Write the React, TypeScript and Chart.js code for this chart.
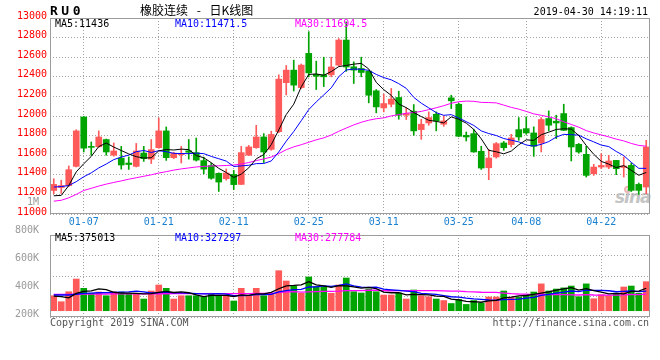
import React, { useEffect, useRef } from 'react';
import { Chart, registerables } from 'chart.js';

Chart.register(...registerables);

// ---------- data ----------
const DATES = [
  '12-28', '01-02', '01-03', '01-04', '01-07', '01-08', '01-09', '01-10', '01-11', '01-14',
  '01-15', '01-16', '01-17', '01-18', '01-21', '01-22', '01-23', '01-24', '01-25', '01-28',
  '01-29', '01-30', '01-31', '02-01', '02-11', '02-12', '02-13', '02-14', '02-15', '02-18',
  '02-19', '02-20', '02-21', '02-22', '02-25', '02-26', '02-27', '02-28', '03-01', '03-04',
  '03-05', '03-06', '03-07', '03-08', '03-11', '03-12', '03-13', '03-14', '03-15', '03-18',
  '03-19', '03-20', '03-21', '03-22', '03-25', '03-26', '03-27', '03-28', '03-29', '04-01',
  '04-02', '04-03', '04-04', '04-08', '04-09', '04-10', '04-11', '04-12', '04-15', '04-16',
  '04-17', '04-18', '04-19', '04-22', '04-23', '04-24', '04-25', '04-26', '04-29', '04-30',
];

const TICK_DATES = ['01-07', '01-21', '02-11', '02-25', '03-11', '03-25', '04-08', '04-22'];

const OPEN = [
  11240, 11270, 11290, 11486, 11990, 11690, 11686, 11760, 11600, 11570,
  11520, 11486, 11622, 11560, 11677, 11848, 11575, 11605, 11645, 11626,
  11545, 11495, 11415, 11360, 11404, 11302, 11600, 11677, 11786, 11660,
  11840, 12340, 12468, 12290, 12639, 12425, 12420, 12420, 12519, 12775,
  12502, 12485, 12458, 12257, 12083, 12120, 12189, 12008, 12049, 11861,
  11929, 12018, 11916, 12185, 12120, 11803, 11820, 11640, 11472, 11582,
  11725, 11708, 11861, 11871, 11827, 11725, 11974, 11947, 12025, 11882,
  11711, 11609, 11411, 11479, 11479, 11547, 11475, 11496, 11302, 11275,
];
const HIGH = [
  11360, 11345, 11490, 11860, 11995, 11735, 11848, 11765, 11725, 11690,
  11582, 11720, 11690, 11760, 11980, 11888, 11630, 11690, 11760, 11775,
  11580, 11520, 11420, 11460, 11445, 11690, 11700, 11905, 11820, 11845,
  12420, 12515, 12570, 12530, 12860, 12560, 12600, 12600, 12790, 12960,
  12553, 12600, 12460, 12270, 12223, 12281, 12253, 12083, 12117, 11967,
  12042, 12042, 12001, 12212, 12130, 11837, 11865, 11691, 11660, 11730,
  11740, 11813, 11984, 11991, 11889, 11984, 12052, 12008, 12120, 11890,
  11720, 11691, 11507, 11616, 11599, 11547, 11582, 11520, 11316, 11752,
];
const LOW = [
  11207, 11210, 11280, 11480, 11633, 11600, 11680, 11600, 11590, 11458,
  11455, 11480, 11537, 11515, 11670, 11547, 11565, 11520, 11560, 11540,
  11410, 11355, 11230, 11345, 11250, 11300, 11595, 11670, 11525, 11650,
  11830, 12215, 12255, 12280, 12400, 12270, 12300, 12400, 12510, 12455,
  12332, 12400, 12134, 12032, 12042, 12093, 11967, 11964, 11803, 11762,
  11906, 11848, 11895, 12076, 11790, 11745, 11630, 11455, 11350, 11570,
  11650, 11684, 11752, 11813, 11588, 11633, 11848, 11769, 11850, 11541,
  11620, 11377, 11394, 11462, 11462, 11401, 11377, 11230, 11200, 11207,
];
const CLOSE = [
  11302, 11290, 11452, 11848, 11672, 11680, 11786, 11633, 11643, 11500,
  11505, 11643, 11565, 11657, 11848, 11575, 11620, 11612, 11630, 11550,
  11458, 11365, 11326, 11418, 11300, 11626, 11684, 11786, 11633, 11812,
  12376, 12468, 12315, 12519, 12440, 12405, 12400, 12500, 12775, 12500,
  12468, 12444, 12212, 12093, 12127, 12172, 12008, 12025, 11848, 11916,
  11984, 11950, 11950, 12155, 11793, 11786, 11633, 11469, 11571, 11718,
  11677, 11776, 11786, 11827, 11691, 11964, 11906, 11929, 11854, 11684,
  11633, 11394, 11479, 11496, 11541, 11462, 11490, 11241, 11241, 11684,
];

const MA5 = [
  11186, 11190, 11290, 11430, 11513, 11588, 11688, 11724, 11683, 11648,
  11613, 11585, 11571, 11574, 11644, 11658, 11653, 11662, 11657, 11597,
  11574, 11523, 11466, 11423, 11373, 11407, 11471, 11563, 11606, 11708,
  11858, 12015, 12121, 12298, 12424, 12429, 12416, 12453, 12504, 12516,
  12529, 12537, 12480, 12343, 12269, 12210, 12122, 12085, 12036, 11994,
  11956, 11945, 11930, 11991, 11966, 11927, 11863, 11767, 11650, 11635,
  11614, 11642, 11706, 11757, 11751, 11809, 11835, 11863, 11869, 11867,
  11801, 11699, 11609, 11537, 11509, 11474, 11494, 11446, 11395, 11424,
];
const MA10 = [
  11275, 11280, 11290, 11330, 11380, 11420, 11470, 11510, 11555, 11581,
  11601, 11636, 11648, 11628, 11646, 11636, 11619, 11617, 11616, 11621,
  11616, 11588, 11564, 11540, 11485, 11491, 11497, 11514, 11515, 11541,
  11633, 11743, 11842, 11952, 12066, 12144, 12215, 12287, 12401, 12470,
  12479, 12477, 12466, 12424, 12392, 12369, 12330, 12282, 12190, 12131,
  12083, 12034, 12007, 12014, 11980, 11942, 11904, 11848, 11821, 11801,
  11770, 11753, 11736, 11704, 11693, 11711, 11739, 11785, 11813, 11809,
  11805, 11767, 11736, 11703, 11688, 11638, 11596, 11527, 11466, 11466,
];
const MA30 = [
  11131, 11140, 11165, 11200, 11240, 11262, 11285, 11305, 11322, 11338,
  11355, 11370, 11385, 11400, 11418, 11432, 11448, 11460, 11470, 11480,
  11486, 11490, 11492, 11495, 11500, 11510, 11525, 11545, 11562, 11581,
  11616, 11656, 11685, 11707, 11732, 11757, 11777, 11806, 11844, 11877,
  11909, 11936, 11957, 11972, 11981, 12001, 12014, 12028, 12035, 12047,
  12065, 12084, 12105, 12130, 12146, 12152, 12150, 12139, 12137, 12134,
  12111, 12088, 12070, 12047, 12022, 12007, 11991, 11972, 11941, 11914,
  11886, 11851, 11827, 11807, 11787, 11764, 11746, 11720, 11700, 11692,
];

// volume, thousand lots
const VOLUME = [
  250, 150, 317, 529, 374, 291, 312, 250, 312, 312,
  291, 291, 195, 329, 429, 374, 195, 250, 250, 250,
  234, 291, 250, 250, 162, 374, 250, 374, 250, 291,
  668, 496, 407, 291, 563, 401, 401, 291, 429, 546,
  317, 296, 364, 317, 262, 262, 296, 195, 346, 250,
  234, 195, 170, 120, 187, 105, 170, 125, 229, 229,
  329, 222, 225, 267, 312, 448, 329, 362, 381, 412,
  234, 448, 200, 267, 250, 291, 396, 412, 290, 485,
];
const VOL_MA5 = [
  245, 235, 215, 290, 324, 332, 365, 351, 308, 295,
  295, 291, 280, 284, 307, 324, 304, 315, 300, 264,
  236, 255, 255, 255, 237, 265, 257, 282, 282, 308,
  367, 416, 422, 431, 485, 432, 413, 389, 417, 414,
  397, 376, 390, 368, 311, 300, 300, 266, 272, 270,
  264, 244, 239, 194, 181, 155, 150, 141, 163, 172,
  216, 227, 247, 254, 271, 295, 316, 344, 366, 386,
  344, 367, 335, 312, 280, 291, 281, 323, 328, 375,
];
const VOL_MA10 = [
  262, 262, 262, 275, 290, 295, 300, 303, 306, 310,
  314, 328, 316, 296, 301, 310, 298, 298, 292, 285,
  280, 280, 285, 277, 251, 251, 256, 269, 269, 273,
  316, 337, 352, 356, 396, 399, 414, 406, 424, 449,
  414, 394, 390, 393, 362, 349, 338, 328, 320, 291,
  282, 272, 253, 233, 226, 210, 197, 190, 179, 176,
  186, 189, 194, 209, 221, 256, 272, 295, 310, 329,
  319, 342, 339, 339, 333, 317, 324, 329, 320, 327,
];
const VOL_MA30 = [
  272, 272, 273, 275, 276, 277, 278, 279, 280, 280,
  281, 281, 282, 282, 283, 283, 284, 284, 284, 285,
  285, 285, 285, 285, 285, 286, 286, 287, 288, 289,
  303, 315, 318, 310, 316, 320, 323, 324, 328, 336,
  337, 337, 342, 342, 336, 333, 336, 334, 337, 337,
  337, 334, 332, 327, 328, 319, 316, 308, 307, 305,
  294, 285, 279, 278, 270, 271, 269, 271, 270, 265,
  262, 268, 262, 260, 260, 261, 264, 271, 269, 277,
];

const VOL_LABEL_TICKS = [200, 400, 600, 800, 1000];

// ---------- styles ----------
const RED = '#ff5a5a';
const GREEN = '#00a400';
const GRID = '#a4a4a4';
const FRAME = '#9c9c9c';
const MONO = '"DejaVu Sans Mono", monospace';
const DATE_BLUE = '#1a80d0';

const framePlugin = {
  id: 'frame',
  afterDraw(chart: any) {
    const { ctx, chartArea: a } = chart;
    ctx.save();
    ctx.strokeStyle = FRAME;
    ctx.lineWidth = 1;
    ctx.strokeRect(a.left + 0.5, a.top + 0.5, a.right - a.left - 1, a.bottom - a.top - 1);
    ctx.restore();
  },
};

const keepDateTicks = (scale: any) => {
  scale.ticks = scale.ticks.filter((t: any) => TICK_DATES.includes(DATES[t.value]));
};

const line = (data: number[], color: string, width = 1) => ({
  type: 'line' as const,
  data,
  borderColor: color,
  borderWidth: width,
  pointRadius: 0,
  tension: 0,
  fill: false,
  order: 0,
});

export default function App() {
  const priceRef = useRef<HTMLCanvasElement>(null);
  const volRef = useRef<HTMLCanvasElement>(null);

  useEffect(() => {
    const colors = CLOSE.map((c, i) => (c >= OPEN[i] ? RED : GREEN));

    const priceChart = new Chart(priceRef.current as HTMLCanvasElement, {
      type: 'bar',
      data: {
        labels: DATES,
        datasets: [
          line(MA5, '#000000'),
          line(MA10, '#0000ff'),
          line(MA30, '#ff00ff'),
          {
            type: 'bar',
            data: OPEN.map((o, i) => [o, CLOSE[i]]),
            backgroundColor: colors,
            barThickness: 6,
            grouped: false,
            minBarLength: 1,
            order: 2,
          } as any,
          {
            type: 'bar',
            data: LOW.map((l, i) => [l, HIGH[i]]),
            backgroundColor: colors,
            barThickness: 1,
            grouped: false,
            order: 3,
          } as any,
        ],
      },
      options: {
        animation: false,
        responsive: false,
        maintainAspectRatio: false,
        events: [],
        layout: { padding: { top: 18, right: 10, left: 0, bottom: 0 } },
        plugins: { legend: { display: false }, tooltip: { enabled: false } },
        scales: {
          x: {
            type: 'category',
            offset: true,
            grid: { offset: false, color: GRID, drawTicks: false, lineWidth: 1 },
            border: { display: false, dash: [1, 2] },
            ticks: {
              autoSkip: false,
              maxRotation: 0,
              color: DATE_BLUE,
              font: { family: MONO, size: 10 },
              padding: 2,
            },
            afterBuildTicks: keepDateTicks,
            afterFit: (s: any) => {
              s.height = 16;
            },
          },
          y: {
            min: 11000,
            max: 13000,
            grid: { color: GRID, drawTicks: false, lineWidth: 1 },
            border: { display: false, dash: [1, 2] },
            ticks: {
              stepSize: 200,
              color: '#ff0000',
              font: { family: MONO, size: 10 },
              padding: 3,
              labelOffset: -2,
              callback: (v: any) => String(v),
            },
            afterFit: (s: any) => {
              s.width = 50;
            },
          },
        },
      },
      plugins: [framePlugin],
    });

    const volChart = new Chart(volRef.current as HTMLCanvasElement, {
      type: 'bar',
      data: {
        labels: DATES,
        datasets: [
          line(VOL_MA5, '#000000', 1.3),
          line(VOL_MA10, '#0000ff', 1.3),
          line(VOL_MA30, '#ff00ff', 1.3),
          {
            type: 'bar',
            data: VOLUME,
            backgroundColor: colors,
            barThickness: 6,
            order: 2,
            yAxisID: 'y',
          } as any,
        ],
      },
      options: {
        animation: false,
        responsive: false,
        maintainAspectRatio: false,
        events: [],
        layout: { padding: { top: 45, right: 10, left: 0, bottom: 0 } },
        plugins: { legend: { display: false }, tooltip: { enabled: false } },
        scales: {
          x: {
            type: 'category',
            offset: true,
            grid: { offset: false, color: GRID, drawTicks: false, lineWidth: 1 },
            border: { display: false, dash: [1, 2] },
            ticks: { display: false, autoSkip: false },
            afterBuildTicks: keepDateTicks,
            afterFit: (s: any) => {
              s.height = 13;
            },
          },
          y: {
            min: -105,
            max: 1264,
            position: 'left',
            grid: { color: GRID, drawTicks: false, lineWidth: 1 },
            border: { display: false, dash: [1, 2] },
            ticks: { display: false },
            afterBuildTicks: (s: any) => {
              s.ticks = [0, 1, 2, 3, 4].map((k) => ({ value: s.min + ((s.max - s.min) * k) / 4 }));
            },
            afterFit: (s: any) => {
              s.width = 0;
            },
          },
          yLabels: {
            type: 'linear',
            position: 'left',
            min: 183,
            max: 767,
            grid: { display: false },
            border: { display: false },
            ticks: {
              color: '#9a9a9a',
              font: { family: MONO, size: 10 },
              padding: 3,
              callback: (v: any) => (v >= 1000 ? v / 1000 + 'M' : v + 'K'),
            },
            afterBuildTicks: (s: any) => {
              s.ticks = VOL_LABEL_TICKS.map((v) => ({ value: v }));
            },
            afterFit: (s: any) => {
              s.width = 50;
            },
          },
        },
      },
      plugins: [framePlugin],
    });

    return () => {
      priceChart.destroy();
      volChart.destroy();
    };
  }, []);

  const txt = (extra: React.CSSProperties): React.CSSProperties => ({
    position: 'absolute',
    fontFamily: MONO,
    fontSize: 10,
    lineHeight: '12px',
    whiteSpace: 'pre',
    ...extra,
  });

  return (
    <div
      style={{
        position: 'absolute',
        left: 0,
        top: 0,
        width: 660,
        height: 360,
        background: '#ffffff',
        overflow: 'hidden',
      }}
    >
      {/* sina watermark */}
      <div
        style={{
          position: 'absolute',
          left: 624,
          top: 186,
          width: 7,
          height: 7,
          borderRadius: '50%',
          border: '2px solid #f0b4b4',
          boxSizing: 'border-box',
        }}
      />
      <div
        style={{
          position: 'absolute',
          left: 615,
          top: 187,
          fontFamily: '"DejaVu Sans", sans-serif',
          fontStyle: 'italic',
          fontWeight: 'bold',
          fontSize: 17,
          lineHeight: '20px',
          letterSpacing: -1,
          color: '#c4c4c4',
        }}
      >
        sina
      </div>

      <canvas ref={priceRef} width={660} height={230} style={{ position: 'absolute', left: 0, top: 0 }} />
      <canvas ref={volRef} width={660} height={140} style={{ position: 'absolute', left: 0, top: 190 }} />

      {/* header */}
      <div style={txt({ left: 50, top: 4, fontSize: 13, lineHeight: '14px', fontWeight: 'bold', letterSpacing: 3.5, color: '#000' })}>
        RU0
      </div>
      <div
        style={txt({
          left: 140,
          top: 2,
          fontFamily: '"Noto Sans CJK SC", sans-serif',
          fontSize: 12,
          lineHeight: '16px',
          wordSpacing: 6,
          color: '#000',
        })}
      >
        橡胶连续 - 日K线图
      </div>
      <div style={txt({ right: 12, top: 6, color: '#000' })}>2019-04-30 14:19:11</div>

      {/* price legend */}
      <div style={txt({ left: 55, top: 18, color: '#000' })}>MA5:11436</div>
      <div style={txt({ left: 175, top: 18, color: '#0000ff' })}>MA10:11471.5</div>
      <div style={txt({ left: 295, top: 18, color: '#ff00ff' })}>MA30:11694.5</div>

      {/* volume legend */}
      <div style={txt({ left: 55, top: 232, color: '#000' })}>MA5:375013</div>
      <div style={txt({ left: 175, top: 232, color: '#0000ff' })}>MA10:327297</div>
      <div style={txt({ left: 295, top: 232, color: '#ff00ff' })}>MA30:277784</div>

      {/* footer */}
      <div style={txt({ left: 50, top: 317, color: '#555' })}>Copyright 2019 SINA.COM</div>
      <div style={txt({ right: 11, top: 317, color: '#555' })}>http://finance.sina.com.cn</div>
    </div>
  );
}
